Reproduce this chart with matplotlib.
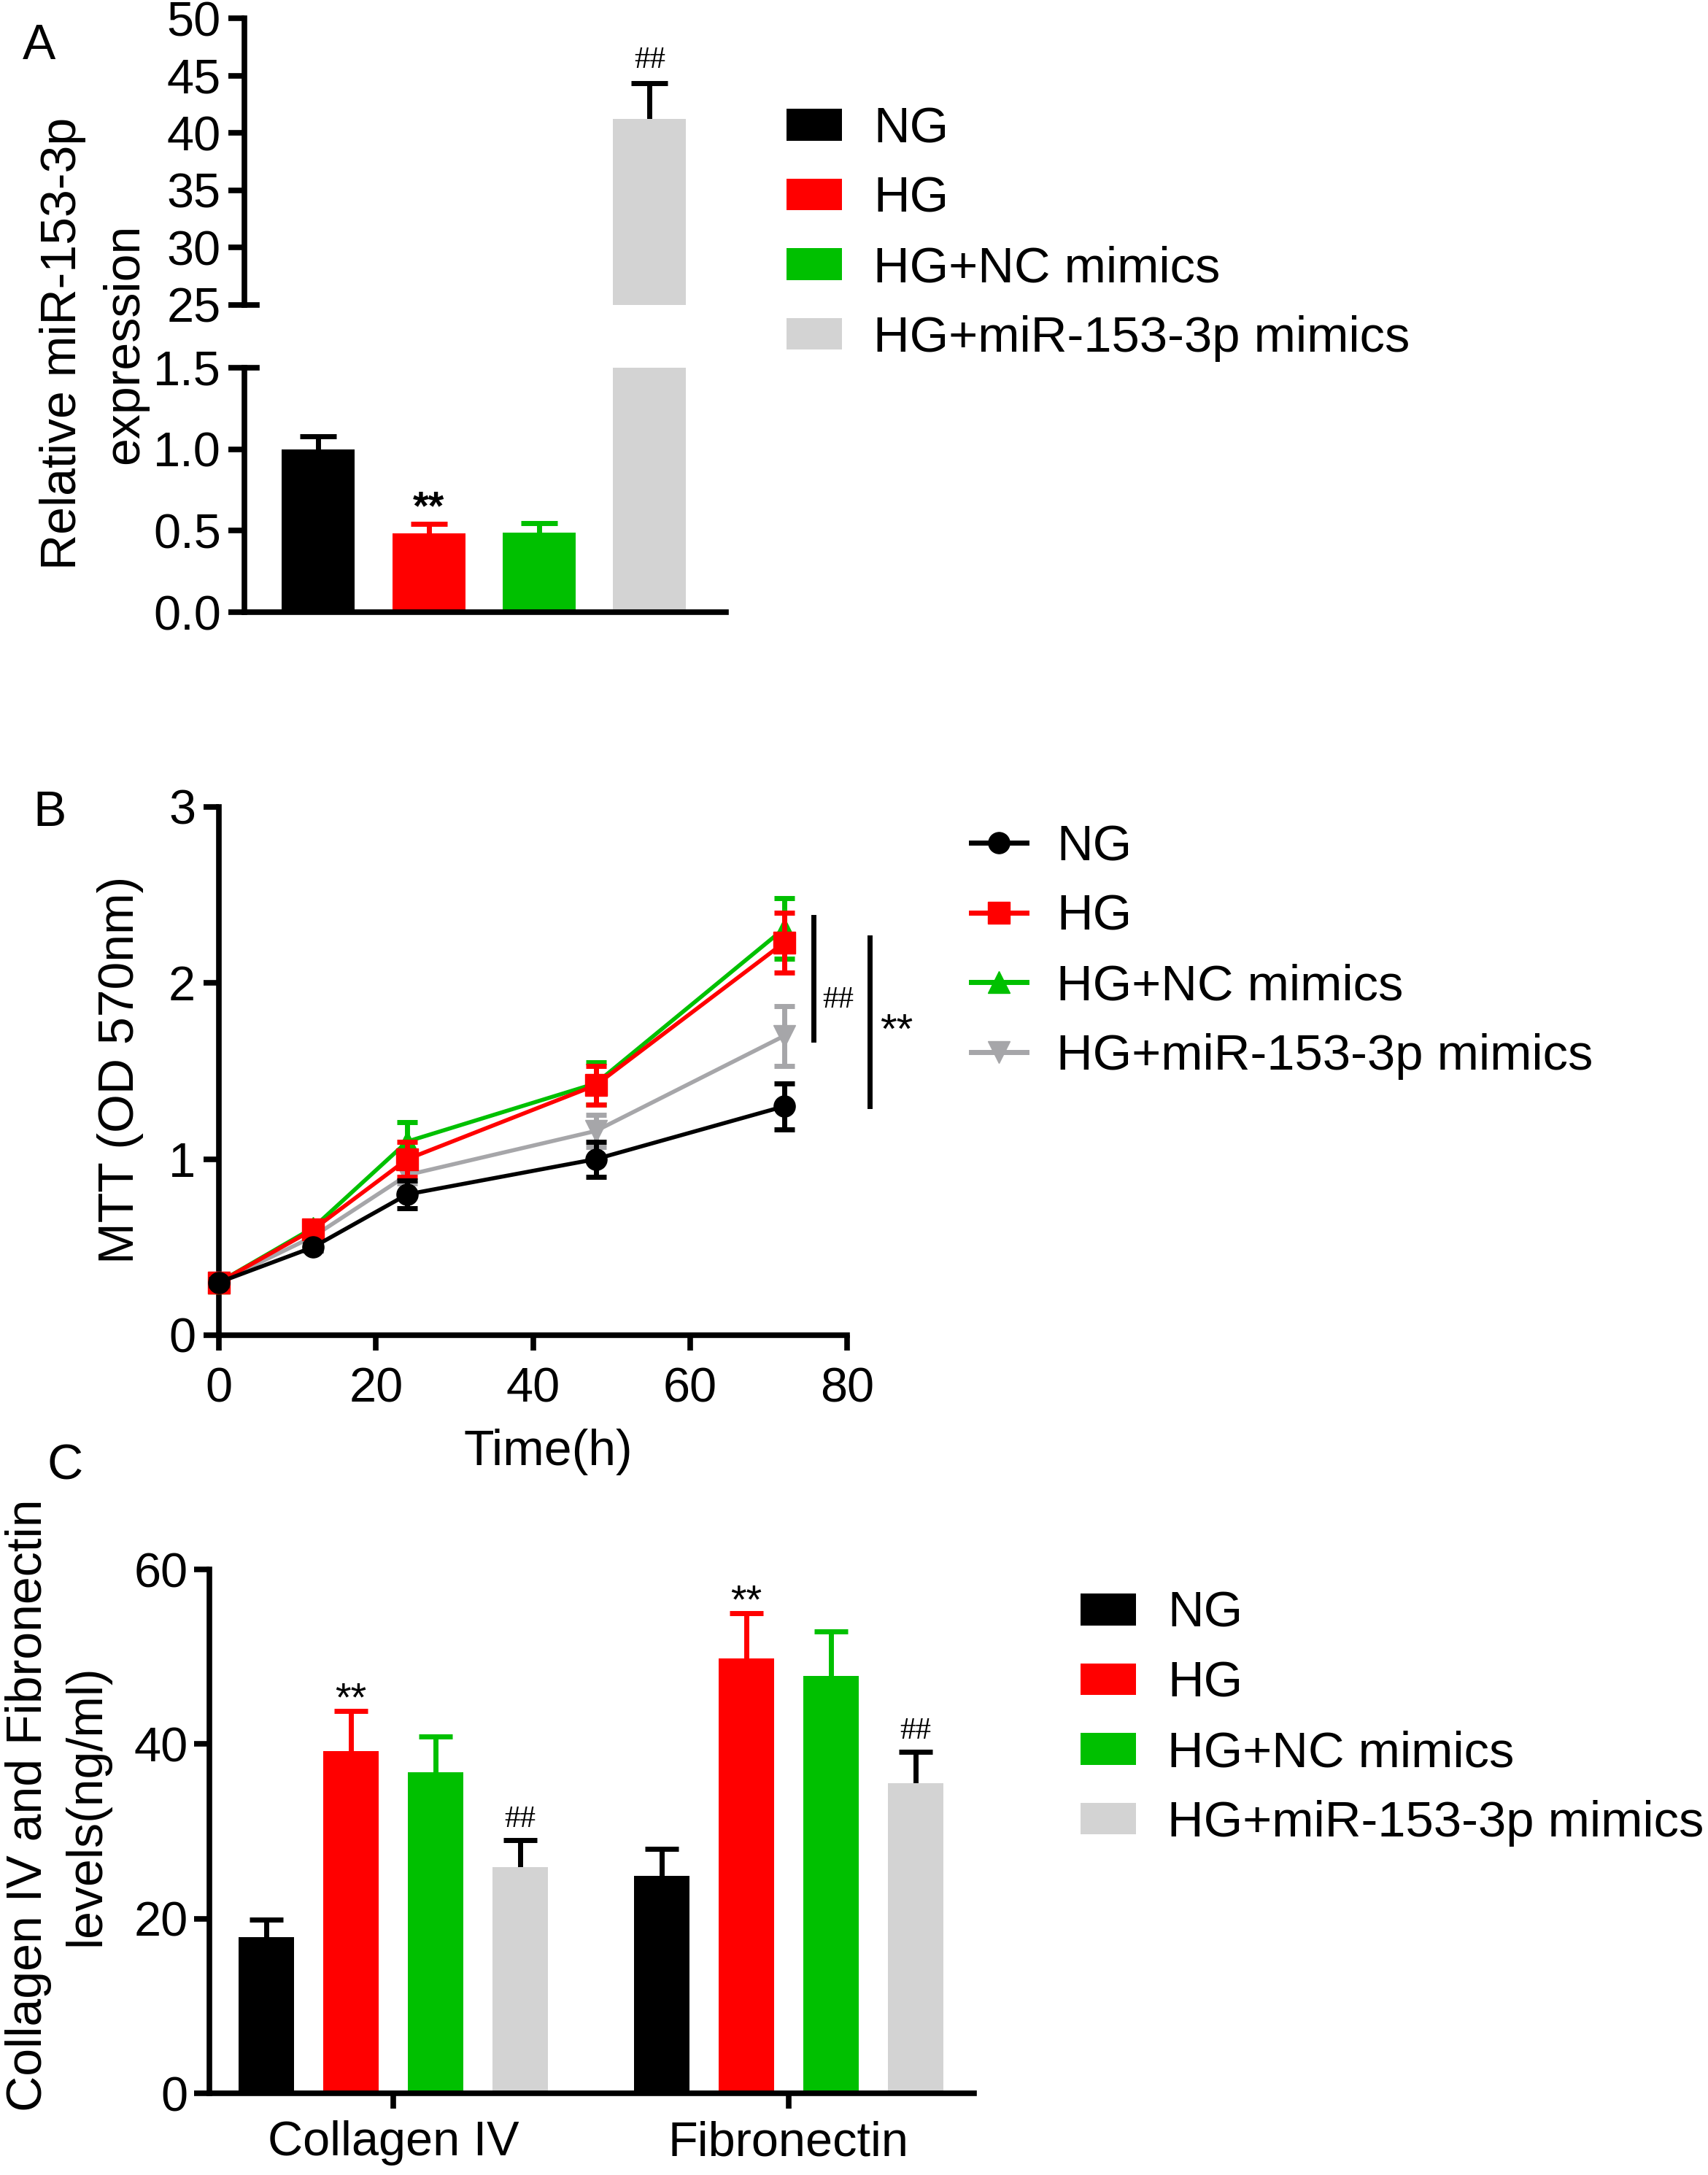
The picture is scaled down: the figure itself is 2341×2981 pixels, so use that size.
import matplotlib.pyplot as plt
from matplotlib.patches import Patch
from matplotlib.lines import Line2D
import numpy as np

plt.rcParams['font.family'] = ['Liberation Sans', 'DejaVu Sans']

FS = 48
FS_LAB = 49
FS_LEG = 49.5
LW = 5.5
SERIF = ["Liberation Serif", "DejaVu Serif"]

groups = ["NG", "HG", "HG+NC mimics", "HG+miR-153-3p mimics"]
bar_colors = ["#000000", "#ff0000", "#00c000", "#d3d3d3"]
err_colors = ["#000000", "#ff0000", "#00c000", "#000000"]
line_colors = ["#000000", "#ff0000", "#00c000", "#a6a6a9"]
markers = ["o", "s", "^", "v"]

# panel A: relative miR-153-3p expression
mir_mean = [1.0, 0.485, 0.49, 41.25]
mir_err = [0.08, 0.055, 0.055, 3.1]
mir_sig = ["", "**", "", "##"]

# panel B: MTT
hours = [0, 12, 24, 48, 72]
mtt_ng = [0.30, 0.50, 0.80, 1.00, 1.30]
mtt_hg = [0.30, 0.60, 1.00, 1.42, 2.23]
mtt_nc = [0.30, 0.61, 1.10, 1.43, 2.31]
mtt_mim = [0.30, 0.56, 0.91, 1.16, 1.70]
mtt_ng_err = [0.02, 0.02, 0.08, 0.10, 0.13]
mtt_hg_err = [0.02, 0.02, 0.10, 0.11, 0.17]
mtt_nc_err = [0.02, 0.02, 0.11, 0.12, 0.17]
mtt_mim_err = [0.02, 0.02, 0.05, 0.09, 0.17]
# significance bars: x, y bottom, y top, label, label baseline
mtt_sig = [(75.7, 1.68, 2.375, "##", 1.86), (82.9, 1.30, 2.26, "**", 1.66)]

# panel C: collagen IV / fibronectin
proteins = ["Collagen IV", "Fibronectin"]
elisa_mean = [[17.9, 24.9], [39.2, 49.8], [36.8, 47.8], [25.9, 35.5]]
elisa_err = [[2.0, 3.1], [4.6, 5.2], [4.1, 5.1], [3.1, 3.6]]
elisa_sig = ["", "**", "", "##"]

W, H = 2341, 2981
fig = plt.figure(figsize=(W / 100, H / 100), dpi=100)


def fx(px):
    return px / W


def fy(py):
    return 1 - py / H


def style_axis(ax, tick_len=15, pad=6):
    for s in ["top", "right"]:
        ax.spines[s].set_visible(False)
    for s in ["left", "bottom"]:
        ax.spines[s].set_linewidth(LW)
    ax.tick_params(width=LW, length=tick_len, labelsize=FS, pad=pad, direction="out")


def bar_errors(ax, xs, means, errs, colors, bw, capfrac):
    for x, m, e, c in zip(xs, means, errs, colors):
        ax.vlines(x, m, m + e, color=c, lw=5, zorder=1)
        ax.hlines(m + e, x - bw * capfrac / 2, x + bw * capfrac / 2, color=c, lw=5, zorder=1)


def sig_text(ax, x, y, s):
    if s == "**":
        ax.text(x, y, s, ha="center", va="baseline", fontsize=40, fontweight="bold", clip_on=False)
    elif s == "##":
        ax.text(x, y, s, ha="center", va="baseline", fontsize=31, family=SERIF, clip_on=False)


# ---------------- panel A (broken axis) ----------------
xa = np.arange(len(groups))
bwa = 0.66
axA_top = fig.add_axes([fx(335), fy(418), fx(995) - fx(335), fy(25) - fy(418)])
axA_bot = fig.add_axes([fx(335), fy(839), fx(995) - fx(335), fy(504) - fy(839)])
for ax, lo, hi in [(axA_top, 25, 50), (axA_bot, 0, 1.5)]:
    ax.bar(xa, mir_mean, width=bwa, color=bar_colors, linewidth=0, zorder=2)
    bar_errors(ax, xa, mir_mean, mir_err, err_colors, bwa, 0.5)
    ax.set_ylim(lo, hi)
    ax.set_xlim(-0.667, 3.69)
    style_axis(ax, tick_len=16, pad=7)
axA_top.spines["bottom"].set_visible(False)
axA_top.set_xticks([])
axA_top.set_yticks(np.arange(25, 51, 5))
axA_bot.set_xticks([])
axA_bot.set_yticks([0, 0.5, 1.0, 1.5])
axA_bot.set_yticklabels(["0.0", "0.5", "1.0", "1.5"])
# break marks
axA_top.plot([0, 0.025], [0, 0], color="black", lw=LW, transform=axA_top.transAxes, clip_on=False)
axA_bot.plot([0, 0.025], [1, 1], color="black", lw=LW, transform=axA_bot.transAxes, clip_on=False)
for i, s in enumerate(mir_sig):
    if s == "**":
        sig_text(axA_bot, xa[i], mir_mean[i] + mir_err[i] + 0.03, s)
    elif s == "##":
        sig_text(axA_top, xa[i], mir_mean[i] + mir_err[i] + 1.3, s)
fig.text(fx(86), fy(471), "Relative miR-153-3p", rotation=90, ha="center", va="center", fontsize=FS_LAB)
fig.text(fx(171), fy(471), "expression", rotation=90, ha="center", va="center", fontsize=FS_LAB)
fig.text(fx(54), fy(63), "A", ha="center", va="center", fontsize=FS_LAB)

handles_bar = [Patch(facecolor=c, edgecolor="none") for c in bar_colors]
leg_kw = dict(loc="upper left", bbox_transform=fig.transFigure, frameon=False, fontsize=FS_LEG,
              borderpad=0, borderaxespad=0, handlelength=1.1, labelspacing=0.46)
fig.legend(handles_bar, groups, bbox_to_anchor=(fx(1078), fy(145)), handleheight=0.6,
           handletextpad=0.63, **leg_kw)

# ---------------- panel B (MTT) ----------------
axB = fig.add_axes([fx(300), fy(1830), fx(1161) - fx(300), fy(1106) - fy(1830)])
series = [(mtt_mim, mtt_mim_err, 3), (mtt_nc, mtt_nc_err, 2), (mtt_hg, mtt_hg_err, 1), (mtt_ng, mtt_ng_err, 0)]
for vals, errs, k in series:
    axB.errorbar(hours, vals, yerr=errs, color=line_colors[k], marker=markers[k], ms=21,
                 lw=4, elinewidth=5, capsize=10, capthick=5, clip_on=False, zorder=3 + (3 - k))
axB.set_xlim(0, 80)
axB.set_ylim(0, 3)
axB.set_xticks([0, 20, 40, 60, 80])
axB.set_yticks([0, 1, 2, 3])
style_axis(axB, tick_len=15, pad=8)
axB.tick_params(axis="x", pad=16)
for x, y0, y1, s, ty in mtt_sig:
    axB.plot([x, x], [y0, y1], color="black", lw=5, clip_on=False)
    if s == "##":
        axB.text(x + 1.2, ty, s, ha="left", va="baseline", fontsize=31, family=SERIF, clip_on=False)
    else:
        axB.text(x + 1.3, ty, s, ha="left", va="baseline", fontsize=42, clip_on=False)
fig.text(fx(165), fy(1466), "MTT (OD 570nm)", rotation=90, ha="center", va="center", fontsize=FS_LAB)
fig.text(fx(751), fy(1990), "Time(h)", ha="center", va="center", fontsize=FS_LAB)
fig.text(fx(68), fy(1114), "B", ha="center", va="center", fontsize=FS_LAB)

handles_line = [Line2D([0], [0], color=line_colors[k], marker=markers[k], ms=21, lw=5)
                for k in range(4)]
fig.legend(handles_line, groups, bbox_to_anchor=(fx(1331), fy(1129)), handletextpad=0.6, **leg_kw)

# ---------------- panel C (ELISA) ----------------
axC = fig.add_axes([fx(287), fy(2869), fx(1335) - fx(287), fy(2151) - fy(2869)])
bwc = 0.655
gap = 4.67
for k in range(4):
    xs = [k + gi * gap for gi in range(len(proteins))]
    axC.bar(xs, elisa_mean[k], width=bwc, color=bar_colors[k], linewidth=0, zorder=2)
    bar_errors(axC, xs, elisa_mean[k], elisa_err[k], [err_colors[k]] * 2, bwc, 0.6)
    for x, m, e in zip(xs, elisa_mean[k], elisa_err[k]):
        if elisa_sig[k] == "**":
            axC.text(x, m + e, "**", ha="center", va="baseline", fontsize=40)
        elif elisa_sig[k] == "##":
            axC.text(x, m + e + 1.5, "##", ha="center", va="baseline", fontsize=31, family=SERIF)
axC.set_xlim(-0.67, 8.36)
axC.set_ylim(0, 60)
axC.set_yticks([0, 20, 40, 60])
axC.set_xticks([1.5 + gi * gap for gi in range(len(proteins))])
axC.set_xticklabels(proteins)
style_axis(axC, tick_len=15, pad=6)
axC.tick_params(axis="x", pad=12)
fig.text(fx(39), fy(2474), "Collagen IV and Fibronectin", rotation=90, ha="center", va="center", fontsize=FS_LAB)
fig.text(fx(118), fy(2474), "levels(ng/ml)", rotation=90, ha="center", va="center", fontsize=FS_LAB)
fig.text(fx(89), fy(2010), "C", ha="center", va="center", fontsize=FS_LAB)

fig.legend(handles_bar, groups, bbox_to_anchor=(fx(1481), fy(2180)), handleheight=0.6,
           handletextpad=0.63, **leg_kw)

fig.savefig("out.png", dpi=100)
